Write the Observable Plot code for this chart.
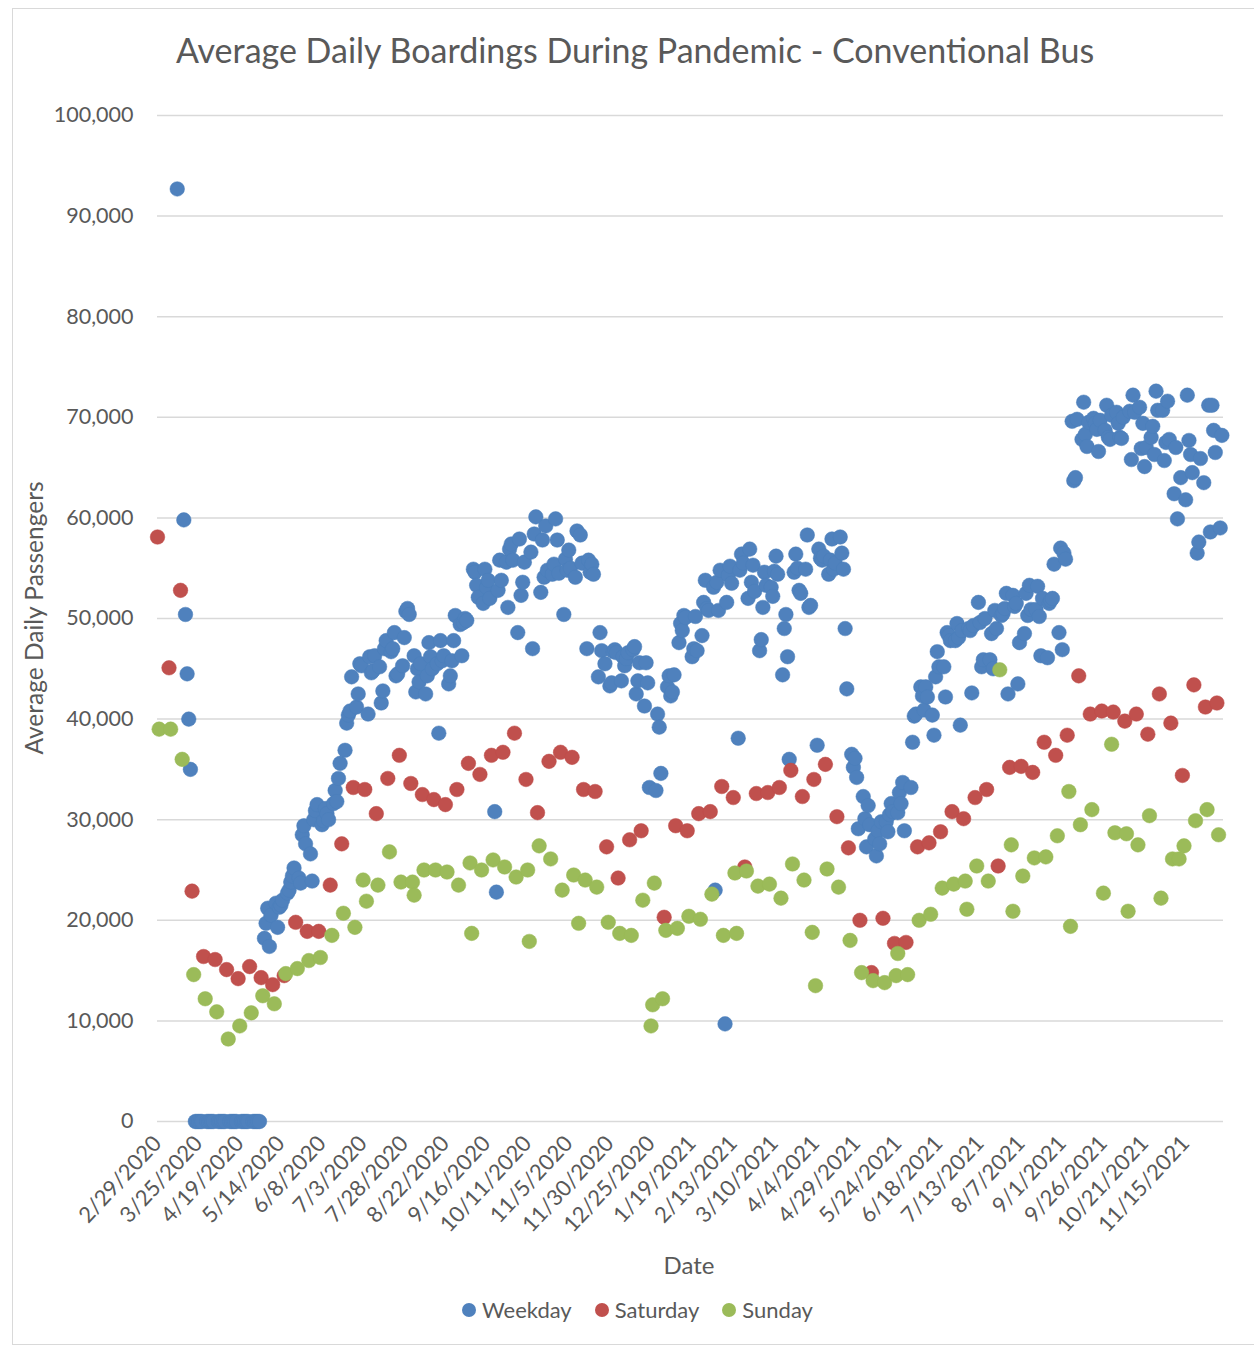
<!DOCTYPE html>
<html>
<head>
<meta charset="utf-8">
<script src="https://cdn.jsdelivr.net/npm/d3@7"></script>
<script src="https://cdn.jsdelivr.net/npm/@observablehq/plot@0.6"></script>
<style>
  body { margin: 0; background: #fff; font-family: Lato, "Open Sans", sans-serif; color: #595959; }
  #wrap { position: relative; width: 1254px; height: 1347px; overflow: hidden; }
  #frame { position: absolute; left: 12px; top: 8px; width: 1260px; height: 1337px; border: 1px solid #d9d9d9; box-sizing: border-box; }
  #title { position: absolute; top: 30px; left: 0; width: 1270px; text-align: center; font-size: 34px; line-height: 40px; white-space: nowrap; }
  #chart { position: absolute; top: 95px; left: 0; }
  #ylabel { position: absolute; left: 33px; top: 618px; transform: translate(-50%, -50%) rotate(-90deg); font-size: 24.5px; white-space: nowrap; }
  #xlabel { position: absolute; top: 1250px; left: 0; width: 1378px; text-align: center; font-size: 24px; }
  #legend { position: absolute; top: 1296px; left: 462px; display: flex; align-items: center; font-size: 22px; line-height: 28px; white-space: nowrap; }
  .item { display: flex; align-items: center; margin-right: 23px; }
  .sw { width: 14px; height: 14px; border-radius: 50%; margin-right: 6px; }
</style>
</head>
<body>
<div id="wrap">
  <div id="frame"></div>
  <div id="title">Average Daily Boardings During Pandemic - Conventional Bus</div>
  <div id="chart"></div>
  <div id="ylabel">Average Daily Passengers</div>
  <div id="xlabel">Date</div>
  <div id="legend"></div>
</div>
<script>
// ---- Series names & colours ----
const seriesNames = ["Weekday", "Saturday", "Sunday"];
const seriesColors = ["#4F81BD", "#C0504D", "#9BBB59"];

// ---- Axis ticks ----
const xTickLabels = ["2/29/2020","3/25/2020","4/19/2020","5/14/2020","6/8/2020","7/3/2020","7/28/2020","8/22/2020",
  "9/16/2020","10/11/2020","11/5/2020","11/30/2020","12/25/2020","1/19/2021","2/13/2021","3/10/2021","4/4/2021",
  "4/29/2021","5/24/2021","6/18/2021","7/13/2021","8/7/2021","9/1/2021","9/26/2021","10/21/2021","11/15/2021"];
const yTicks = [0, 10000, 20000, 30000, 40000, 50000, 60000, 70000, 80000, 90000, 100000];
const xDomain = ["2/29/2020", "12/8/2021"];

// ---- Weekday boardings, one row per week (Mon..Fri), first week starting Mon 3/2/2020 ----
const weekdayFirstMonday = "3/2/2020";
const weekdayWeeks = [
  [null,null,null,null,null],
  [null,null,null,92700,null],
  [59800,50400,44500,40000,35000],
  [0,0,0,0,0],
  [0,0,0,0,0],
  [0,0,0,0,0],
  [0,0,0,0,0],
  [0,0,0,0,0],
  [0,0,0,0,0],
  [18200,19700,21200,17400,20500],
  [21700,19300,21300,21500,22000],
  [22700,23000,23800,24400,25200],
  [24200,23700,28500,29400,27600],
  [26600,23900,30000,30900,31500],
  [29500,29900,31100,30600,30000],
  [31600,32900,31800,34100,35600],
  [36900,39600,40400,40800,44200],
  [41200,42500,45500,45300,null],
  [40500,46200,44600,44800,46300],
  [45200,41600,42800,47000,47800],
  [46700,47000,48600,44300,44500],
  [45300,48100,50700,51000,50400],
  [46300,42700,45000,43700,45500],
  [42500,44300,47600,46200,45000],
  [45500,38600,47800,45800,46300],
  [43500,44300,45800,47800,50300],
  [49400,46300,49600,50000,49800],
  [null,54900,54600,53300,52100],
  [51500,54900,53100,53800,52000],
  [30800,22800,52800,55800,53800],
  [55600,51100,56900,57400,55800],
  [48600,57900,52300,53600,55600],
  [null,56600,47000,58400,60100],
  [52600,57800,54100,59200,54800],
  [54400,55400,59900,57800,54500],
  [50400,55900,54800,56800,55000],
  [54100,58700,null,58300,55500],
  [47000,55800,54600,55400,54400],
  [44200,48600,46800,null,45500],
  [43300,43600,46700,46900,46600],
  [43800,46200,45300,46000,46600],
  [46900,47200,42500,43800,45600],
  [41300,45600,43600,33200,null],
  [32900,40500,39200,34600,null],
  [43200,44300,42300,42700,44400],
  [47600,49500,48800,50300,50100],
  [null,46200,47000,50200,46800],
  [48300,51600,53800,51000,50800],
  [53100,23000,53600,50800,54800],
  [9700,51600,54300,55200,53500],
  [null,38100,54800,56400,55500],
  [52000,56900,53600,55300,52700],
  [46800,47900,51100,54600,53300],
  [53100,52200,54700,56200,54400],
  [44400,49000,50400,46200,36000],
  [54600,56400,55000,52800,52500],
  [54900,58300,51100,51300,null],
  [37400,56900,56000,55800,56200],
  [54400,55800,57900,54900,55500],
  [58100,56500,54900,49000,43000],
  [36500,35200,36100,34200,29100],
  [32300,30100,27300,31400,29500],
  [28100,26400,28900,27600,29800],
  [29800,28800,30500,31600,30800],
  [30700,32700,31600,33700,28900],
  [null,33200,37700,40300,40500],
  [43200,42300,40900,43200,42200],
  [40400,38400,44200,46700,45200],
  [45200,42200,48600,48300,47800],
  [47800,49500,48100,39400,48800],
  [null,49000,48800,42600,49300],
  [51600,49600,45200,45900,50000],
  [45900,48500,45000,50800,49000],
  [50300,50500,51000,52500,42500],
  [52300,51200,51500,43500,47600],
  [48500,52500,50300,53300,50900],
  [50900,53200,50200,46300,52000],
  [46100,51500,51800,52000,55400],
  [48600,57000,46900,56500,55900],
  [null,69600,63700,64000,69800],
  [67800,71500,68300,67100,69500],
  [69900,69400,68800,66600,69700],
  [68700,71200,68000,67800,70200],
  [70500,69400,68000,67900,70000],
  [null,70600,65800,72200,70500],
  [71000,66900,69400,65100,67000],
  [68000,69100,66300,72600,70700],
  [70700,65700,67500,71600,67800],
  [62400,67000,59900,null,64000],
  [61800,72200,67700,66300,64500],
  [56500,57600,65900,null,63500],
  [71200,58600,71200,68700,66500],
  [59000,68200,null,null,null]
];

// ---- Saturday boardings, weekly from Sat 2/29/2020 ----
const saturdayFirst = "2/29/2020";
const saturdayValues = [
  58100,45100,52800,22900,16400,16100,15100,14200,15400,14300,13600,14500,19800,18900,18900,23500,27600,33200,33000,30600,
  34100,36400,33600,32500,32000,31500,33000,35600,34500,36400,36700,38600,34000,30700,35800,36700,36200,33000,32800,27300,
  24200,28000,28900,null,20300,29400,28900,30600,30800,33300,32200,25300,32600,32700,33200,34900,32300,34000,35500,30300,
  27200,20000,14800,20200,17700,17800,27300,27700,28800,30800,30100,32200,33000,25400,35200,35300,34700,37700,36400,38400,
  44300,40500,40800,40700,39800,40500,38500,42500,39600,34400,43400,41200,41600
];

// ---- Sunday boardings, weekly from Sun 3/1/2020 ----
const sundayFirst = "3/1/2020";
const sundayValues = [
  39000,39000,36000,14600,12200,10900,8200,9500,10800,12500,11700,14700,15200,16000,16300,18500,20700,19300,21900,23500,
  26800,23800,23800,25000,25000,24800,23500,25700,25000,26000,25300,24300,25000,27400,26100,23000,24500,24000,23300,19800,
  18700,18500,22000,23700,19000,19200,20400,20100,22600,18500,24700,24900,23400,23600,22200,25600,24000,13500,25100,23300,
  18000,14800,14000,13800,14500,14600,20000,20600,23200,23600,23900,25400,23900,44900,27500,24400,26200,26300,28400,32800,
  29500,31000,22700,28700,28600,27500,30400,22200,26100,27400,29900,31000,28500
];

// ---- Holidays and other days reported with the Sunday series ----
const holidayDates = ["7/3/2020","8/3/2020","9/7/2020","10/12/2020","11/11/2020","12/25/2020","12/26/2020","1/1/2021",
  "2/15/2021","4/2/2021","5/24/2021","7/5/2021","8/2/2021","9/6/2021","10/1/2021","10/11/2021","11/11/2021"];
const holidayValues = [24000,22500,18700,17900,19700,9500,11600,12200,18700,18800,16700,21100,20900,19400,37500,20900,26100];

// ---- build tables ----
const DAY = 864e5;
const parse = s => { const [m, d, y] = s.split("/").map(Number); return new Date(Date.UTC(y, m - 1, d)); };
const weekly = (first, vals, name) => vals.map((v, i) => ({date: new Date(+parse(first) + i * 7 * DAY), value: v, series: name}))
  .filter(d => d.value != null);

const weekday = [];
weekdayWeeks.forEach((week, k) => week.forEach((v, d) => {
  if (v != null) weekday.push({date: new Date(+parse(weekdayFirstMonday) + (7 * k + d) * DAY), value: v, series: "Weekday"});
}));
const saturday = weekly(saturdayFirst, saturdayValues, "Saturday");
const sunday = weekly(sundayFirst, sundayValues, "Sunday")
  .concat(holidayDates.map((s, i) => ({date: parse(s), value: holidayValues[i], series: "Sunday"})));

const xTicks = xTickLabels.map(parse);
const fmtDate = d => `${d.getUTCMonth() + 1}/${d.getUTCDate()}/${d.getUTCFullYear()}`;

const chart = Plot.plot({
  width: 1254,
  height: 1150,
  marginLeft: 157,
  marginRight: 31,
  marginTop: 20,
  marginBottom: 124,
  style: {fontFamily: "Lato, 'Open Sans', sans-serif", fontSize: "21px", color: "#595959", background: "transparent", overflow: "visible"},
  x: {type: "utc", domain: xDomain.map(parse)},
  y: {domain: [0, 100000]},
  marks: [
    Plot.gridY(yTicks, {stroke: "#d9d9d9", strokeOpacity: 1, strokeWidth: 1.5}),
    Plot.axisY(yTicks, {tickSize: 0, tickPadding: 24, tickFormat: d3.format(","), label: null, fontSize: 21.5}),
    Plot.axisX(xTicks, {tickSize: 0, tickPadding: 18, tickRotate: -47, tickFormat: fmtDate, label: null, fontSize: 22}),
    Plot.dot(weekday, {x: "date", y: "value", r: 7.3, fill: seriesColors[0], stroke: "#4a7ebb", strokeWidth: 0.5}),
    Plot.dot(saturday, {x: "date", y: "value", r: 7.3, fill: seriesColors[1], stroke: "#be4b48", strokeWidth: 0.5}),
    Plot.dot(sunday, {x: "date", y: "value", r: 7.3, fill: seriesColors[2], stroke: "#98b954", strokeWidth: 0.5})
  ]
});
document.getElementById("chart").appendChild(chart);

const legend = document.getElementById("legend");
seriesNames.forEach((n, i) => {
  const item = document.createElement("div");
  item.className = "item";
  item.innerHTML = `<span class="sw" style="background:${seriesColors[i]}"></span><span>${n}</span>`;
  legend.appendChild(item);
});
</script>
</body>
</html>
